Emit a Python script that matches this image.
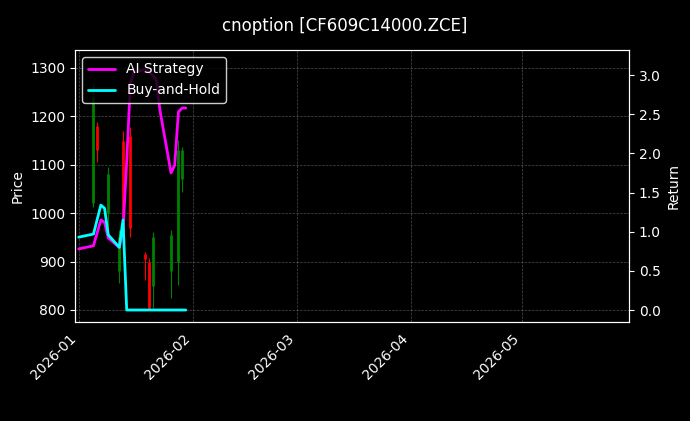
import numpy as np, pandas as pd, matplotlib
matplotlib.use("Agg")
import matplotlib.pyplot as plt, seaborn as sns, matplotlib.dates as mdates

sns.set_style("dark")
plt.style.use("dark_background")

candle_dates = ["2026-01-05","2026-01-06","2026-01-09","2026-01-12","2026-01-13","2026-01-15",
                "2026-01-19","2026-01-20","2026-01-21","2026-01-26","2026-01-28","2026-01-29"]
opens  = [1020,1180,1000,880,1150,1160,915,900,850,880,900,1070]
closes = [1240,1130,1080,950,960,970,905,800,950,955,1130,1130]
highs  = [1269,1188,1095,965,1170,1178,920,907,961,965,1152,1137]
lows   = [1013,1106,951,856,938,951,862,800,804,825,852,1044]

line_dates = ["2026-01-01","2026-01-05","2026-01-07","2026-01-08","2026-01-09","2026-01-12","2026-01-13",
              "2026-01-14","2026-01-15","2026-01-16","2026-01-19","2026-01-20","2026-01-21","2026-01-22",
              "2026-01-23","2026-01-26","2026-01-27","2026-01-28","2026-01-29","2026-01-30"]
ai_ret = [0.78,0.82,1.15,1.12,0.92,0.80,1.02,1.90,2.90,3.04,3.07,3.04,3.00,2.94,2.55,1.75,1.85,2.53,2.58,2.58]
bh_ret = [0.93,0.97,1.34,1.30,0.96,0.80,1.15,0.0,0.0,0.0,0.0,0.0,0.0,0.0,0.0,0.0,0.0,0.0,0.0,0.0]

fig = plt.figure(figsize=(6.9,4.21), dpi=100, facecolor="black")
ax = fig.add_axes([75/690, 1-322/421, (629-75)/690, (322-50)/421])
ax.set_facecolor("black")
cd = pd.to_datetime(candle_dates)
for d,o,c,h,l in zip(cd,opens,closes,highs,lows):
    col = "green" if c>=o else "red"
    ax.vlines(d,l,h,color=col,lw=0.8)
    ax.vlines(d,min(o,c),max(o,c),color=col,lw=2)
ax.set_ylim(775,1337)
ax.set_xlim(pd.Timestamp("2025-12-31"),pd.Timestamp("2026-05-30"))
ax.set_ylabel("Price")
ax.grid(True,color="gray",ls="--",lw=0.5,alpha=0.6)
for s in ax.spines.values(): s.set_color("white")

ax2 = ax.twinx()
df = pd.DataFrame({"date":pd.to_datetime(line_dates),"ai":ai_ret,"bh":bh_ret})
sns.lineplot(data=df,x="date",y="ai",ax=ax2,color="magenta",lw=2,label="AI Strategy")
sns.lineplot(data=df,x="date",y="bh",ax=ax2,color="cyan",lw=2,label="Buy-and-Hold")
ax2.set_ylim(-0.153,3.32)
ax2.set_ylabel("Return")
ax2.set_xlabel("")
ax2.legend(loc="upper left",facecolor="black",edgecolor="white")
ax.xaxis.set_major_locator(mdates.MonthLocator())
ax.xaxis.set_major_formatter(mdates.DateFormatter("%Y-%m"))
plt.setp(ax.get_xticklabels(),rotation=45,ha="right")
fig.suptitle("cnoption [CF609C14000.ZCE]",y=0.96,fontsize=12)
fig.savefig("out.png",dpi=100,facecolor="black")
